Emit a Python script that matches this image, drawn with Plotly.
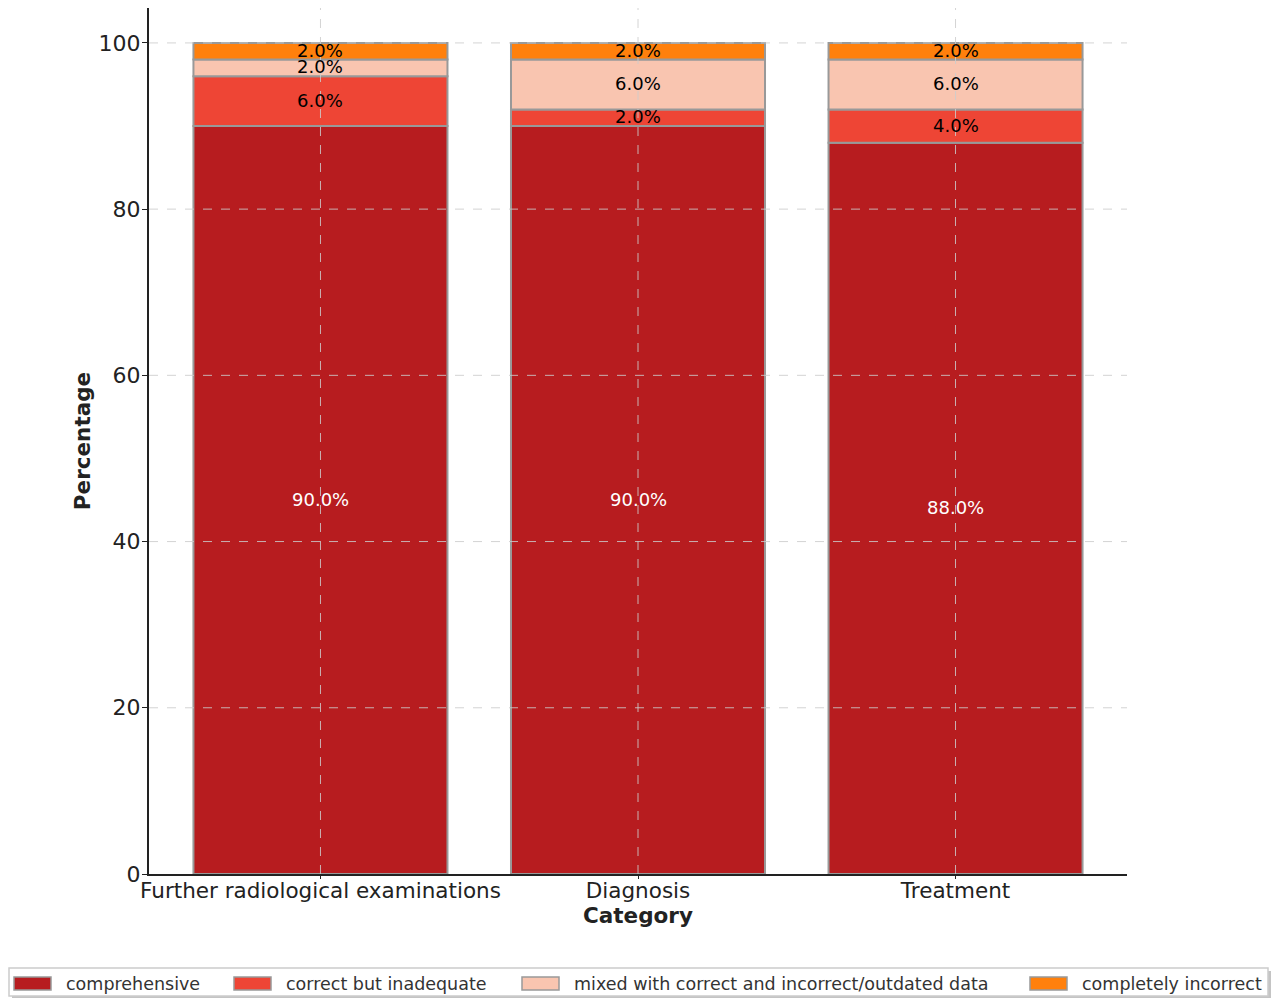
import plotly.graph_objects as go

# data
categories = ["Further radiological examinations", "Diagnosis", "Treatment"]
series_names = [
    "comprehensive",
    "correct but inadequate",
    "mixed with correct and incorrect/outdated data",
    "completely incorrect",
]
comprehensive = [90, 90, 88]
correct_but_inadequate = [6, 2, 4]
mixed_data = [2, 6, 6]
completely_incorrect = [2, 2, 2]
y_ticks = [0, 20, 40, 60, 80, 100]

series_values = [comprehensive, correct_but_inadequate, mixed_data, completely_incorrect]
colors = ["#b71c1f", "#ee4535", "#f9c5b0", "#ff800c"]
label_colors = ["white", "black", "black", "black"]

FONT = "DejaVu Sans, Verdana, sans-serif"
# page has an 8px body margin, so the figure is a bit smaller than the window
OFF = 8
W, H = 1264, 991
L, R, T, B = 141, 145, 0, 125
PW, PH = W - L - R, H - T - B


def px(xp):
    # reference-page pixel -> paper x
    return (xp - OFF - L) / PW


def py(yp):
    # reference-page pixel -> paper y
    return (H - B - (yp - OFF)) / PH


fig = go.Figure()
bases = [0] * len(categories)
annotations = []
shapes = []
for name, vals, col, tcol in zip(series_names, series_values, colors, label_colors):
    fig.add_trace(
        go.Bar(
            x=categories,
            y=vals,
            base=bases,
            name=name,
            width=0.8,
            marker_color=col,
            marker_line_color="#999999",
            marker_line_width=2,
            showlegend=False,
            hovertemplate=f"{name}<br>%{{x}}: %{{y:.1f}}%<extra></extra>",
        )
    )
    # value labels at the middle of each segment
    for cat, b, v in zip(categories, bases, vals):
        annotations.append(
            dict(
                x=cat, y=b + v / 2, xref="x", yref="y", yshift=1,
                text=f"{v:.1f}%", showarrow=False,
                font=dict(family=FONT, size=18, color=tcol),
            )
        )
    bases = [b + v for b, v in zip(bases, vals)]

# dashed grid drawn over the bars (like matplotlib with grid on top)
grid = dict(color="rgba(205,205,205,0.85)", width=1, dash="dash")
for t in y_ticks[1:]:
    shapes.append(dict(type="line", xref="paper", yref="y", x0=0, x1=1, y0=t, y1=t,
                       line=grid, layer="above"))
for cat in categories:
    shapes.append(dict(type="line", xref="x", yref="paper", x0=cat, x1=cat, y0=0, y1=1,
                       line=grid, layer="above"))

# legend box along the bottom (drawn by hand so it spans the whole width)
shapes.append(dict(type="rect", xref="paper", yref="paper",
                   x0=px(12), x1=px(1271), y0=py(998), y1=py(971),
                   fillcolor="#c4c4c4", line_width=0, layer="below"))
shapes.append(dict(type="rect", xref="paper", yref="paper",
                   x0=px(9), x1=px(1268), y0=py(996), y1=py(968),
                   fillcolor="white", line=dict(color="#cccccc", width=1.5), layer="below"))
swatch_x = [14, 234, 522, 1030]
for name, col, sx in zip(series_names, colors, swatch_x):
    shapes.append(dict(type="rect", xref="paper", yref="paper",
                       x0=px(sx), x1=px(sx + 37), y0=py(990), y1=py(977),
                       fillcolor=col, line=dict(color="#999999", width=1.5)))
    annotations.append(dict(x=px(sx + 50), y=py(984), xref="paper", yref="paper",
                            xanchor="left", yanchor="middle", showarrow=False,
                            text=name, font=dict(family=FONT, size=17.5, color="#333333")))

fig.update_layout(
    barmode="overlay",
    width=W,
    height=H,
    margin=dict(l=L, r=R, t=T, b=B, autoexpand=False),
    plot_bgcolor="white",
    paper_bgcolor="white",
    font=dict(family=FONT, size=22, color="#222222"),
    annotations=annotations,
    shapes=shapes,
    showlegend=False,
    xaxis=dict(
        range=[-0.54, 2.54],
        showline=True, linecolor="#222222", linewidth=2,
        ticks="outside", ticklen=3, tickcolor="#222222",
        ticklabelstandoff=-7,
        showgrid=False, tickangle=0, automargin=False,
        title=dict(text="<b>Category</b>", font=dict(size=21.5), standoff=0),
        tickfont=dict(size=21.5),
    ),
    yaxis=dict(
        range=[0, 104.2],
        tickvals=y_ticks,
        showline=True, linecolor="#222222", linewidth=2,
        ticks="outside", ticklen=5, tickcolor="#222222",
        ticklabelstandoff=-3,
        showgrid=False, zeroline=False, automargin=False,
        title=dict(text="<b>Percentage</b>", font=dict(size=21.5), standoff=2),
        tickfont=dict(size=22),
    ),
)

fig.write_html("out.html")
